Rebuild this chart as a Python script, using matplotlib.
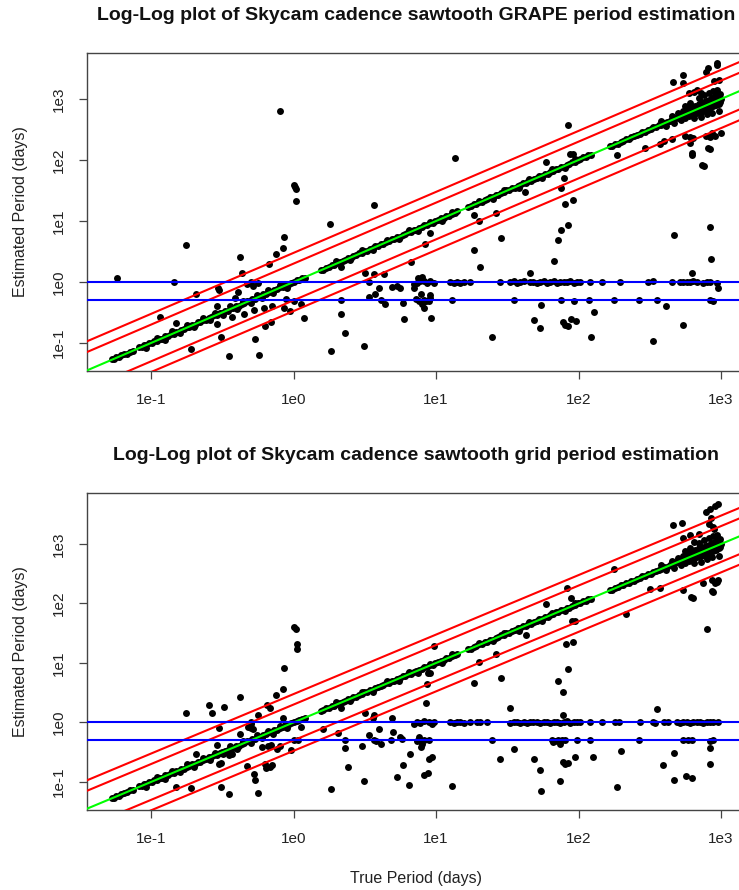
import numpy as np
import matplotlib
matplotlib.use("Agg")
import matplotlib.pyplot as plt

plt.rcParams['font.family'] = ['Liberation Sans', 'DejaVu Sans']

# ---------------------------------------------------------------------------
# Light curves whose period is recovered (estimate ~ true), common to both runs
# ---------------------------------------------------------------------------
diag_true_a = [0.053, 0.055, 0.057, 0.060, 0.062, 0.065, 0.068, 0.071, 0.075, 0.083, 0.087, 0.090, 0.093, 0.097,
               0.101, 0.105, 0.110, 0.115, 0.120, 0.126, 0.132, 0.138, 0.145, 0.150, 0.156, 0.163, 0.170, 0.178,
               0.186, 0.195, 0.204, 0.213, 0.222, 0.232, 0.243, 0.254, 0.265, 0.277, 0.290, 0.303, 0.317, 0.331,
               0.346, 0.362, 0.378, 0.395, 0.413, 0.432, 0.451, 0.472, 0.493, 0.515, 0.539, 0.563, 0.589, 0.615,
               0.643, 0.672, 0.703, 0.735, 0.768, 0.803, 0.839, 0.877, 0.917, 0.958, 1.00, 1.05, 1.09, 1.14, 1.20]
diag_est_a = [0.054, 0.054, 0.058, 0.059, 0.063, 0.066, 0.067, 0.072, 0.074, 0.085, 0.086, 0.092, 0.092, 0.099,
              0.100, 0.107, 0.108, 0.117, 0.118, 0.129, 0.130, 0.141, 0.143, 0.153, 0.154, 0.166, 0.168, 0.182,
              0.184, 0.199, 0.201, 0.218, 0.219, 0.237, 0.240, 0.259, 0.262, 0.283, 0.286, 0.309, 0.313, 0.338,
              0.341, 0.369, 0.373, 0.403, 0.407, 0.440, 0.445, 0.481, 0.486, 0.525, 0.531, 0.574, 0.580, 0.627,
              0.633, 0.685, 0.692, 0.749, 0.756, 0.818, 0.826, 0.893, 0.903, 0.976, 1.01, 1.06, 1.08, 1.16, 1.18]

diag_true_b = [1.55, 1.62, 1.69, 1.77, 1.85, 1.93, 2.02, 2.11, 2.21, 2.31, 2.41, 2.52, 2.63, 2.75, 2.88, 3.01,
               3.14, 3.28, 3.43, 3.59, 3.75, 3.92, 4.10, 4.28, 4.47, 4.68, 4.89, 5.11, 5.34, 5.58, 5.83, 6.09,
               6.37, 6.66, 6.96, 7.27, 7.60, 7.94, 8.30, 8.68, 9.07, 9.48, 9.91, 10.4, 10.8, 11.3, 11.8, 12.4,
               12.9, 13.5, 14.1]
diag_est_b = [1.58, 1.60, 1.72, 1.75, 1.89, 1.91, 2.06, 2.09, 2.25, 2.28, 2.46, 2.49, 2.68, 2.72, 2.94, 2.98,
              3.20, 3.25, 3.50, 3.55, 3.82, 3.88, 4.18, 4.24, 4.56, 4.63, 4.99, 5.06, 5.45, 5.52, 5.95, 6.03,
              6.50, 6.59, 7.10, 7.20, 7.75, 7.86, 8.47, 8.59, 9.25, 9.38, 10.1, 10.3, 11.0, 11.2, 12.0, 12.3,
              13.2, 13.4, 14.4]

diag_true_c = [16.8, 17.6, 18.4, 19.2, 20.1, 21.0, 21.9, 22.9, 24.0, 25.0, 26.2, 27.4, 28.6, 29.9, 31.2, 32.6,
               34.1, 35.7, 37.3, 39.0, 40.7, 42.6, 44.5, 46.5, 48.6, 50.8, 53.1, 55.5, 58.0, 60.6, 63.3, 66.2,
               69.2, 72.3, 75.5, 78.9, 82.5, 86.2, 90.1, 94.2, 98.4, 103, 108, 112, 117, 122]
diag_est_c = [17.1, 17.4, 18.8, 19.0, 20.5, 20.8, 22.3, 22.6, 24.5, 24.7, 26.7, 27.1, 29.2, 29.6, 31.8, 32.2,
              34.8, 35.3, 38.0, 38.6, 41.5, 42.1, 45.4, 46.0, 49.6, 50.2, 54.2, 54.9, 59.2, 59.9, 64.6, 65.4,
              70.6, 71.5, 77.0, 78.0, 84.2, 85.2, 91.9, 93.1, 100, 102, 110, 111, 119, 121]

diag_true_d = [165, 172, 180, 188, 197, 206, 215, 225, 235, 245, 256, 268, 280, 293, 306, 320, 334, 349, 365,
               381, 398, 416, 435, 455, 475, 496, 519, 542, 566, 592, 618, 646, 675, 706, 737, 770, 805, 841,
               879, 918, 960, 1000]
diag_est_d = [168, 170, 184, 186, 201, 204, 219, 223, 240, 243, 261, 265, 286, 290, 312, 317, 341, 345, 372,
              377, 406, 412, 444, 450, 485, 491, 529, 537, 577, 586, 630, 612, 688, 699, 752, 730, 821, 833,
              897, 909, 979, 990]

# slightly less accurate recoveries lying just off the 1:1 relation
near_true = [0.092, 0.11, 0.125, 0.14, 0.16, 0.18, 0.20, 0.23, 0.26, 0.28, 0.32, 0.36, 0.40, 0.44, 0.50, 0.55,
             0.60, 0.66, 0.72, 0.80, 0.90, 2.0, 2.5, 3.0, 3.6, 4.5, 5.5, 6.5, 7.5, 9.0, 11, 13, 20, 25, 30, 38,
             45, 55, 65, 80, 95]
near_est = [0.083, 0.12, 0.113, 0.155, 0.145, 0.20, 0.18, 0.255, 0.235, 0.31, 0.29, 0.40, 0.36, 0.49, 0.45, 0.61,
            0.54, 0.73, 0.65, 0.88, 0.81, 2.2, 2.3, 3.3, 3.3, 4.9, 5.0, 7.1, 6.8, 9.8, 10.0, 14.2, 21.5, 23, 32, 35,
            48, 51, 70, 74, 102]

# long-period stars, where the recovered period scatters more widely
spread_true = [380, 410, 450, 470, 500, 520, 540, 560, 580, 600, 620, 640, 660, 680, 700, 720, 740, 760, 780,
               800, 820, 840, 860, 880, 900, 920, 940, 960, 980, 990, 600, 650, 700, 750, 800, 850, 900, 950,
               550, 450, 500, 620, 720, 820, 920, 700, 760, 820, 880, 940, 650, 720, 800, 870, 960, 560, 610]
spread_est = [440, 360, 520, 400, 580, 450, 640, 480, 700, 520, 740, 560, 780, 600, 840, 620, 880, 650, 940,
              680, 980, 720, 1050, 760, 1100, 800, 1150, 840, 1200, 900, 660, 700, 760, 820, 860, 900, 950, 1000,
              600, 470, 530, 600, 700, 800, 880, 1050, 1150, 1250, 1350, 1400, 480, 500, 560, 600, 640, 760, 850]

# ---------------------------------------------------------------------------
# GRAPE: failures / harmonics
# ---------------------------------------------------------------------------
grape_true = [0.058, 0.80, 1.00, 1.03, 1.04, 1.04, 1.79, 0.175, 0.855, 0.84, 0.75, 0.42, 0.67, 0.435, 0.146,
              0.206, 0.296, 0.30, 0.116, 0.15, 0.19, 0.31, 0.352, 0.54, 0.57, 0.29, 0.29, 0.63, 0.69, 0.45,
              0.39, 0.41, 0.37, 0.53, 0.62, 0.71, 0.86, 0.95, 1.01, 1.12, 1.18, 2.14, 2.17, 2.29, 1.82, 3.13,
              3.4, 2.14, 3.2, 0.47, 0.52, 0.88,
              3.66, 13.6, 83.8, 59, 87, 92, 78.5, 75, 81, 91, 75.5, 85, 72, 67, 28.7, 26.5, 20, 18.4, 18.4,
              20.3, 9.1, 8.4, 6.7, 3.7, 4.3, 4.0, 4.4, 5.9, 6.0, 9.2, 24.8, 49, 54, 54.5, 78, 80, 85, 88, 96,
              123, 128, 331, 410, 545, 847, 840, 471, 758, 630, 840, 295, 185, 45.5, 630, 950, 42, 7.0, 7.8,
              7.6, 8.0, 8.2, 8.5, 9.0, 9.1, 4.9, 5.3, 5.6, 3.75, 7.5, 8.0,
              460, 540, 540, 780, 810, 940, 960, 680, 720, 650, 930, 890, 600,
              610, 610, 810, 740, 630, 830, 900, 780, 860, 1000, 640, 450, 395, 370, 560]
grape_est = [1.18, 625, 39, 36, 33, 21, 8.8, 4.0, 5.5, 3.6, 2.85, 2.6, 1.95, 1.42, 1.0,
             0.63, 0.81, 0.73, 0.27, 0.215, 0.081, 0.126, 0.062, 0.117, 0.064, 0.207, 0.40, 0.19, 0.22, 0.30,
             0.55, 0.69, 0.27, 0.35, 0.38, 0.40, 0.38, 0.33, 0.48, 0.43, 0.26, 0.50, 0.30, 0.145, 0.074, 0.090,
             0.57, 1.76, 1.42, 0.93, 0.85, 0.52,
             18.4, 108, 368, 94, 124, 124, 51.6, 35, 19.3, 21.9, 7.2, 8.5, 4.8, 2.2, 5.2, 13.4, 10, 12.4, 3.4,
             1.78, 6.3, 4.26, 2.1, 1.34, 1.34, 0.79, 0.44, 0.45, 0.244, 0.26, 0.124, 0.235, 0.174, 0.42, 0.22,
             0.20, 0.19, 0.25, 0.23, 0.125, 0.32, 0.107, 0.40, 0.197, 2.36, 7.9, 5.9, 79, 122, 151, 156, 122,
             1.42, 1.39, 0.80, 30, 0.79, 0.63, 0.49, 0.43, 0.38, 0.49, 0.62, 0.55, 0.82, 0.85, 0.80, 0.63,
             1.15, 1.20,
             1900, 2470, 1860, 2770, 3230, 3600, 2050, 1400, 1250, 1300, 3900, 1990, 1270,
             238, 190, 157, 83, 130, 238, 250, 250, 282, 275, 232, 220, 207, 185, 250]

# GRAPE estimates locked on the 1-day and half-day aliases
grape_day_true = [0.50, 0.56, 3.4, 6.97, 7.36, 7.77, 8.2, 8.65, 9.13, 9.63, 12.6, 13.3, 14.0, 14.8, 15.6, 17.4,
                  28.2, 33.2, 35.1, 37.0, 39.0, 41.2, 45.8, 48.3, 51.0, 53.8, 56.8, 59.9, 63.2, 66.8, 70.4, 74.4,
                  78.5, 82.8, 87.4, 92.3, 97.4, 103, 121, 146, 196, 309, 335, 450, 514, 543, 573, 605, 638, 674,
                  750, 792, 836, 931]
grape_day_est = [1.00, 0.98, 1.00, 0.93, 0.96, 1.02, 1.04, 0.97, 1.03, 0.95, 1.00, 0.98, 1.00, 0.97, 1.01, 1.00,
                 1.00, 0.99, 1.02, 0.98, 1.00, 1.03, 0.99, 1.01, 0.98, 1.00, 1.04, 0.97, 1.00, 1.02, 0.98, 1.01,
                 0.99, 1.00, 1.02, 0.97, 1.00, 1.01, 1.00, 1.00, 1.00, 1.00, 1.02, 1.00, 1.00, 0.99, 1.01, 1.00,
                 1.03, 1.00, 0.98, 1.01, 1.00, 0.97]
grape_half_true = [8.2, 8.9, 12.9, 35.4, 75.1, 92.3, 118, 176, 264, 355, 836, 884, 4.1, 7.2]
grape_half_est = [0.50, 0.49, 0.50, 0.51, 0.50, 0.49, 0.50, 0.50, 0.50, 0.50, 0.51, 0.49, 0.50, 0.52]

# ---------------------------------------------------------------------------
# Grid search: failures / harmonics
# ---------------------------------------------------------------------------
grid_true = [0.175, 0.255, 0.266, 0.325, 0.42, 0.30, 0.29, 0.30, 0.31, 0.206, 0.15, 0.19, 0.31, 0.35, 0.35,
             0.37, 0.42, 0.47, 0.48, 0.50, 0.52, 0.50, 0.56, 0.53, 0.54, 0.56, 0.65, 0.68, 0.75, 0.84, 0.86,
             1.00, 1.04, 1.05, 1.05, 0.85, 1.13, 0.60, 0.66, 0.70, 0.76, 0.80, 0.63, 0.68, 0.64, 0.71, 0.96,
             1.00, 1.08, 1.6, 2.05, 2.3, 2.3, 2.4, 1.82, 3.1, 3.0, 2.15, 3.2, 3.4,
             9.7, 176, 83, 89, 59, 90, 95, 216, 43, 26.5, 20, 18.4, 28.6, 8.6, 8.8, 9.0, 8.5, 82, 92, 85, 72,
             78, 33, 78, 354, 5.3, 6.5, 5.9, 6.6, 8.2, 8.8, 9.3, 8.9, 7.9, 8.0, 7.6, 5.6, 5.8, 5.0, 4.1, 3.8,
             4.0, 3.6, 3.7, 4.9, 13, 28, 35.5, 49, 54, 54.5, 74, 78, 80, 85, 95, 66, 74, 127, 185, 198, 390,
             470, 470, 570, 625, 840, 840,
             800, 860, 620, 640, 315, 370, 543, 884, 956, 860, 750, 900, 930,
             460, 530, 540, 610, 650, 790, 840, 900, 950, 820, 890, 850, 880, 700]
grid_est = [1.47, 2.0, 1.42, 1.84, 2.7, 0.82, 0.42, 0.204, 0.21, 0.30, 0.081, 0.078, 0.081, 0.063, 0.28,
            0.29, 0.65, 0.184, 0.85, 0.82, 0.78, 0.96, 1.33, 0.138, 0.11, 0.066, 2.0, 1.72, 2.9, 3.7, 8.1,
            41, 37, 21, 17, 1.2, 0.83, 0.38, 0.40, 0.42, 0.36, 0.40, 0.20, 0.18, 0.17, 0.19, 0.34,
            0.50, 0.50, 0.79, 0.67, 0.50, 0.37, 0.18, 0.077, 0.104, 0.40, 1.72, 1.47, 0.61,
            19.5, 375, 185, 125, 97, 51, 51, 66, 29.5, 14, 10.5, 4.65, 5.5, 4.4, 6.7, 6.8, 2.1, 20.8, 22.7,
            7.8, 5.0, 3.2, 1.77, 1.33, 1.66, 0.122, 0.089, 0.19, 0.30, 0.13, 0.14, 0.26, 0.24, 0.39, 0.44,
            0.57, 0.57, 0.52, 0.68, 0.44, 0.49, 0.79, 1.2, 1.34, 1.2, 0.085, 0.24, 0.36, 0.24, 0.16, 0.071,
            0.104, 0.22, 0.20, 0.21, 0.26, 0.47, 0.44, 0.26, 0.083, 0.33, 0.19, 0.31, 0.107, 0.127, 0.115,
            0.37, 0.20,
            37, 162, 130, 122, 175, 180, 169, 158, 250, 250, 218, 220, 230,
            2100, 2230, 1250, 1420, 1100, 3400, 3800, 4300, 4700, 2200, 1800, 2700, 1950, 1500]

grid_day_true = [0.50, 6.97, 7.36, 7.77, 8.2, 8.9, 9.4, 9.63, 12.6, 13.3, 14.0, 14.8, 15.6, 17.4, 19.4, 20.4,
                 22.8, 33.2, 35.1, 37.0, 39.0, 41.2, 43.4, 45.8, 48.3, 51.0, 53.8, 56.8, 59.9, 63.2, 66.8, 70.4,
                 74.4, 78.5, 82.8, 87.4, 92.3, 97.4, 103, 121, 146, 181, 191, 270, 335, 344, 395, 424, 489,
                 514, 543, 573, 605, 638, 674, 711, 750, 792, 836, 884, 956]
grid_day_est = [1.00, 0.95, 1.03, 0.97, 1.05, 1.00, 0.96, 1.02, 1.00, 0.98, 1.01, 1.00, 0.97, 1.00, 1.02, 1.00,
                1.00, 0.97, 1.00, 1.02, 0.99, 1.00, 0.98, 1.01, 1.00, 1.03, 0.98, 1.00, 1.01, 0.97, 1.00, 1.02,
                0.99, 1.00, 1.05, 0.98, 1.00, 1.01, 1.00, 1.00, 1.00, 1.00, 1.00, 1.00, 1.00, 0.98, 1.00, 1.00,
                1.00, 0.99, 1.01, 1.00, 0.98, 1.00, 1.03, 1.00, 0.99, 1.00, 1.01, 1.00, 1.00]
grid_half_true = [3.66, 4.8, 7.36, 7.77, 8.2, 8.9, 24.7, 65, 68.5, 72.3, 76.3, 80.7, 97.4, 121, 264, 543, 588,
                  621, 836, 884]
grid_half_est = [0.50, 0.50, 0.49, 0.51, 0.50, 0.50, 0.50, 0.50, 0.49, 0.51, 0.50, 0.50, 0.50, 0.50, 0.50,
                 0.50, 0.51, 0.50, 0.49, 0.50]

# reference relations
harmonic_ratios = [3.0, 2.0, 0.5, 1.0 / 3.0]
alias_periods = [1.0, 0.5]
tick_values = [0.1, 1, 10, 100, 1000]
tick_labels = ["1e-1", "1e0", "1e1", "1e2", "1e3"]

titles = ["Log-Log plot of Skycam cadence sawtooth GRAPE period estimation",
          "Log-Log plot of Skycam cadence sawtooth grid period estimation"]

common_true = diag_true_a + diag_true_b + diag_true_c + diag_true_d + near_true + spread_true
common_est = diag_est_a + diag_est_b + diag_est_c + diag_est_d + near_est + spread_est

panels = [
    dict(true=common_true + grape_true + grape_day_true + grape_half_true,
         est=common_est + grape_est + grape_day_est + grape_half_est,
         rect=[87 / 739, 1 - 371 / 890, 658 / 739, 318 / 890],
         ylim=(10 ** -1.459, 10 ** 3.754)),
    dict(true=common_true + grid_true + grid_day_true + grid_half_true,
         est=common_est + grid_est + grid_day_est + grid_half_est,
         rect=[87 / 739, 1 - 810 / 890, 658 / 739, 317 / 890],
         ylim=(10 ** -1.471, 10 ** 3.857)),
]

fig = plt.figure(figsize=(7.39, 8.9), dpi=100)
fig.patch.set_facecolor("white")

xline = np.array([1e-3, 1e5])
for i, p in enumerate(panels):
    ax = fig.add_axes(p["rect"])
    ax.set_xscale("log")
    ax.set_yscale("log")
    ax.plot(p["true"], p["est"], "o", color="black", ms=5.0, mew=0, zorder=2)
    for r in harmonic_ratios:
        ax.plot(xline, r * xline, color="#FF0000", lw=1.5, zorder=3)
    ax.plot(xline, xline, color="#00FF00", lw=1.5, zorder=3)
    for a in alias_periods:
        ax.axhline(a, color="#0000FF", lw=1.5, zorder=4)
    ax.set_xlim(10 ** -1.449, 10 ** 3.168)
    ax.set_ylim(*p["ylim"])
    ax.set_xticks(tick_values)
    ax.set_xticklabels(tick_labels)
    ax.set_yticks(tick_values)
    ax.set_yticklabels(tick_labels, rotation=90, va="center")
    ax.minorticks_off()
    ax.tick_params(axis="both", length=5.5, width=0.9, color="#444444", labelsize=11,
                   labelcolor="#222222", pad=10)
    for s in ax.spines.values():
        s.set_color("#444444")
        s.set_linewidth(1.0)
    top_px = 53 if i == 0 else 493
    bot_px = 371 if i == 0 else 810
    fig.text(416 / 739, 1 - (top_px - 37) / 890, titles[i], ha="center", va="center",
             fontsize=14, fontweight="bold", color="#111111")
    fig.text(21 / 739, 1 - ((top_px + bot_px) / 2) / 890, "Estimated Period (days)", rotation=90,
             ha="center", va="center", fontsize=11.5, color="#222222")

fig.text(416 / 739, 1 - 878 / 890, "True Period (days)", ha="center", va="center",
         fontsize=11.5, color="#222222")

fig.savefig("out.png", dpi=100, facecolor="white")
